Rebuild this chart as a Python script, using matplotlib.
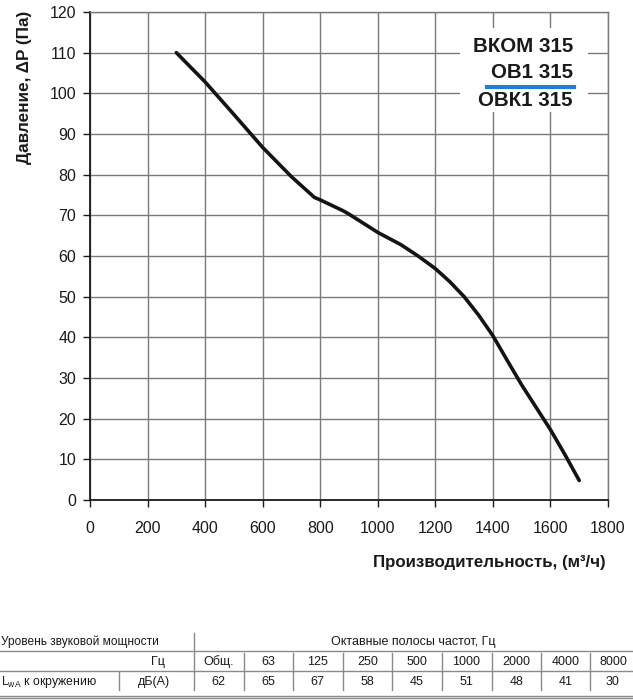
import matplotlib
matplotlib.use("Agg")
import matplotlib.pyplot as plt
from matplotlib.lines import Line2D
from matplotlib.patches import Rectangle

# ---- data ----
flow = [300, 400, 500, 600, 700, 780, 800, 880, 900, 1000, 1080, 1140, 1200,
        1250, 1300, 1350, 1400, 1450, 1500, 1550, 1600, 1650, 1700]
pressure = [110, 102.8, 94.8, 86.7, 79.5, 74.4, 73.8, 71.1, 70.3, 65.8, 62.8, 60,
            56.9, 53.7, 50, 45.5, 40.4, 34.3, 28.3, 22.8, 17.3, 11.2, 4.8]
x_ticks = [0, 200, 400, 600, 800, 1000, 1200, 1400, 1600, 1800]
y_ticks = [0, 10, 20, 30, 40, 50, 60, 70, 80, 90, 100, 110, 120]
models = ["ВКОМ 315", "ОВ1 315", "ОВК1 315"]
bands = ["Общ.", "63", "125", "250", "500", "1000", "2000", "4000", "8000"]
lwa = ["62", "65", "67", "58", "45", "51", "48", "41", "30"]

W, H = 633, 700
fig = plt.figure(figsize=(W / 100, H / 100), dpi=100)

def fx(px):
    return px / W

def fy(py):
    return 1 - py / H

FAM = ["Liberation Sans", "DejaVu Sans"]
L, R, T, B = 90, 608, 12, 500
ax = fig.add_axes([fx(L), fy(B), fx(R) - fx(L), fy(T) - fy(B)])
ax.set_xlim(0, 1800)
ax.set_ylim(0, 120)
ax.set_xticks(x_ticks)
ax.set_yticks(y_ticks)
ax.grid(True, color="#7a7a7a", linewidth=1.0)
ax.set_axisbelow(True)
for s in ("top", "right"):
    ax.spines[s].set_color("#7a7a7a")
    ax.spines[s].set_linewidth(1.0)
for s in ("left", "bottom"):
    ax.spines[s].set_color("#1a1a1a")
    ax.spines[s].set_linewidth(1.3)
ax.tick_params(axis="both", direction="out", length=5, width=1.0, color="#1a1a1a",
               labelsize=11.5, labelcolor="#1a1a1a")
ax.tick_params(axis="y", pad=5)
ax.tick_params(axis="x", pad=10)
for lab in ax.get_xticklabels() + ax.get_yticklabels():
    lab.set_family(FAM)

# white box behind model names
ax.add_patch(Rectangle((fx(460), fy(112)), fx(588) - fx(460), fy(28) - fy(112),
                       transform=fig.transFigure, facecolor="white", edgecolor="none",
                       zorder=2))

ax.plot(flow, pressure, color="#141414", linewidth=2.6, solid_capstyle="round",
        solid_joinstyle="round", zorder=3)

# labels
fig.text(fx(25), fy(87), "Давление, ΔP (Па)", rotation=90, ha="center", va="center",
         fontsize=12.3, fontweight="bold", color="#1a1a1a", family=FAM)
fig.text(fx(606), fy(562), "Производительность, (м³/ч)", ha="right", va="center",
         fontsize=12.2, fontweight="bold", color="#1a1a1a", family=FAM)

# model names
for m, yy in zip(models, [47, 73, 100]):
    fig.text(fx(573), fy(yy), m, ha="right", va="center", fontsize=14.8,
             fontweight="bold", color="#1a1a1a", family=FAM, zorder=5)
fig.add_artist(Line2D([fx(487), fx(574)], [fy(86.5), fy(86.5)], color="#1f7fd3",
                      linewidth=3.0))

# ---- sound table ----
tfam = FAM
tfs = 9.0
tc = "#1a1a1a"
lc = "#8a8a8a"

def hline(y, x0=0, x1=W, lw=1.0):
    fig.add_artist(Line2D([fx(x0), fx(x1)], [fy(y), fy(y)], color=lc, linewidth=lw))

def vline(x, y0, y1, lw=1.0):
    fig.add_artist(Line2D([fx(x), fx(x)], [fy(y0), fy(y1)], color=lc, linewidth=lw))

hline(651)
hline(671)
hline(696)
hline(698)
vline(194, 633, 690)
vline(119, 672, 690)
col_edges = [194, 243.5, 293, 342.5, 392, 441.5, 491.5, 541, 590, 639]
for xe in col_edges[1:-1]:
    vline(xe, 653, 690)

fig.text(fx(1), fy(642), "Уровень звуковой мощности", ha="left", va="center",
         fontsize=8.6, color=tc, family=tfam)
fig.text(fx(413), fy(642), "Октавные полосы частот, Гц", ha="center", va="center",
         fontsize=tfs, color=tc, family=tfam)
fig.text(fx(165), fy(662), "Гц", ha="right", va="center", fontsize=tfs, color=tc,
         family=tfam)
fig.text(fx(1), fy(682), "L$_{\\mathregular{wA}}$ к окружению", ha="left", va="center",
         fontsize=8.8, color=tc, family=tfam)
fig.text(fx(170), fy(682), "дБ(А)", ha="right", va="center", fontsize=tfs, color=tc,
         family=tfam)
for i, (b, v) in enumerate(zip(bands, lwa)):
    xc = (col_edges[i] + col_edges[i + 1]) / 2
    if i == len(bands) - 1:
        xc = 613
    fig.text(fx(xc), fy(662), b, ha="center", va="center", fontsize=tfs, color=tc,
             family=tfam)
    fig.text(fx(xc), fy(682), v, ha="center", va="center", fontsize=tfs, color=tc,
             family=tfam)

fig.savefig("out.png", dpi=100)
